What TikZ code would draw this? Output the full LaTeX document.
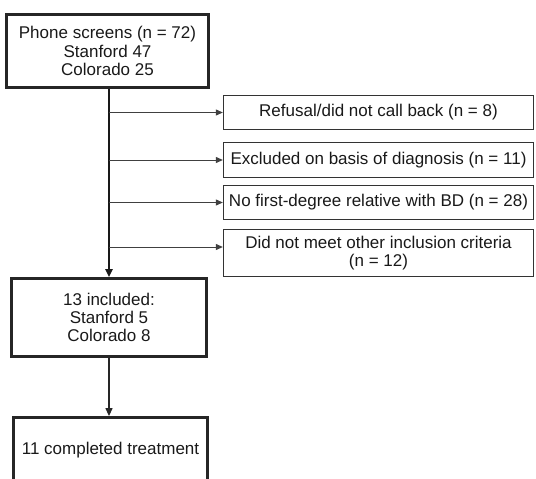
\documentclass[tikz,border=0pt]{standalone}
\usepackage{fontspec}
\setmainfont{Liberation Sans}
\usetikzlibrary{arrows.meta}
\begin{document}
\begin{tikzpicture}[x=1pt,y=-1pt,
  every node/.style={font=\fontsize{17}{18.3}\selectfont, text=black!90, align=center, inner sep=0pt},
  mainbox/.style={draw=black!85, line width=2.8pt},
  sidebox/.style={draw=black!80, line width=1.3pt, minimum width=310pt},
  trunk/.style={draw=black!90, line width=2pt, -{Triangle[length=8pt,width=7pt]}},
  branch/.style={draw=black!75, line width=1pt, -{Triangle[length=7pt,width=6pt]}},
  plain/.style={draw=black!85, line width=1.2pt, -{Triangle[length=8pt,width=7pt]}},
]
\useasboundingbox (0,0) rectangle (536,479);
\clip (0,0) rectangle (536,479);
\node[mainbox, minimum width=202pt, minimum height=73pt] (screen) at (107.5,51) {Phone screens (n = 72)\\Stanford 47\\Colorado 25};
\node[sidebox, minimum height=34pt] (refusal) at (378.5,112.5) {Refusal/did not call back (n = 8)};
\node[sidebox, minimum height=35pt] (excl) at (378.5,160) {Excluded on basis of diagnosis (n = 11)};
\node[sidebox, minimum height=34pt] (nofirst) at (378.5,202.5) {No first-degree relative with BD (n = 28)};
\node[sidebox, minimum height=47pt] (other) at (378.5,253) {Did not meet other inclusion criteria\\(n = 12)};
\node[mainbox, minimum width=195pt, minimum height=78pt] (incl) at (109,317.5) {13 included:\\Stanford 5\\Colorado 8};
\node[mainbox, minimum width=194pt, minimum height=65pt] (compl) at (110.5,450) {11 completed treatment};
\coordinate (t) at (109,89);
\draw[trunk] (t) -- (incl.north);
\draw[branch] (t |- refusal.west) -- (refusal.west);
\draw[branch] (t |- excl.west) -- (excl.west);
\draw[branch] (t |- nofirst.west) -- (nofirst.west);
\draw[branch] (109,247) -- (other.west |- 0,247);
\draw[plain] (incl.south) -- (incl.south |- compl.north);
\end{tikzpicture}
\end{document}
